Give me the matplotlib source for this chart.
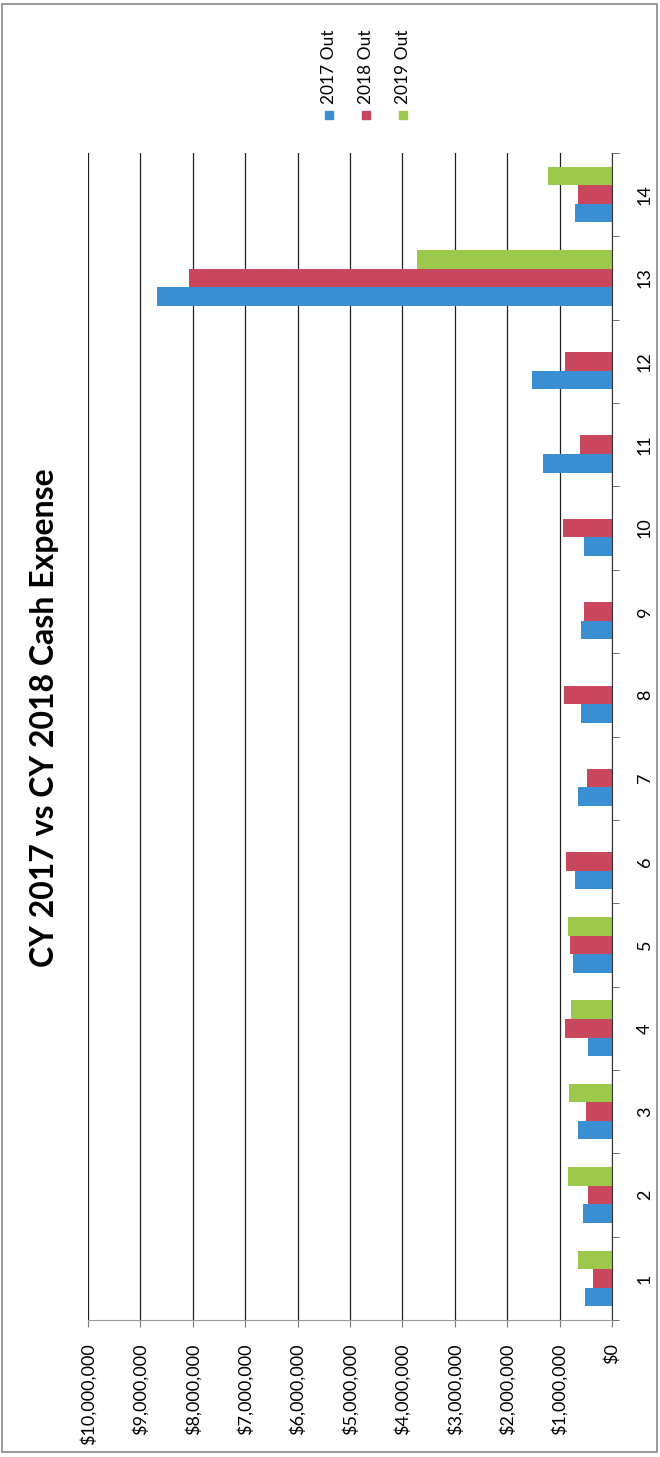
# CY 2017 vs CY 2018 Cash Expense - column chart, printed page turned sideways
import numpy as np
import matplotlib.pyplot as plt
from matplotlib.patches import Rectangle
from matplotlib.ticker import FuncFormatter

# Data
categories = list(range(1, 15))
out_2017 = [520000, 560000, 650000, 460000, 750000, 710000, 640000, 600000, 600000, 530000, 1320000, 1530000, 8680000, 710000]
out_2018 = [360000, 460000, 500000, 900000, 800000, 880000, 480000, 920000, 540000, 940000, 610000, 900000, 8080000, 650000]
out_2019 = [650000, 840000, 820000, 790000, 840000, 0, 0, 0, 0, 0, 0, 0, 3720000, 1230000]
series_names = ['2017 Out', '2018 Out', '2019 Out']
series_colors = ['#3a8fd2', '#c9475c', '#9cc84c']
value_ticks = list(range(0, 10000001, 1000000))
title_text = 'CY 2017 vs CY 2018 Cash Expense'

plt.rcParams['font.family'] = ['Lato', 'DejaVu Sans']

W, H = 660, 1457
fig = plt.figure(figsize=(W / 100, H / 100), dpi=100)

# page border
fig.patches.append(Rectangle((2 / W, 5 / H), 655 / W, 1448 / H, transform=fig.transFigure,
                             fill=False, edgecolor='#8a8a8a', linewidth=1.2))

# plot area in pixels: x 88..612, y 153..1320 (from top)
ax = fig.add_axes([88 / W, (H - 1320) / H, (612 - 88) / W, (1320 - 153) / H])

y = np.array(categories)
bh = 0.222
for i, vals in enumerate([out_2017, out_2018, out_2019]):
    ax.barh(y + (i - 1) * bh, vals, height=bh, color=series_colors[i], label=series_names[i])

ax.set_xlim(10000000, 0)
ax.set_ylim(0.5, 14.5)

# value axis along the bottom
ax.set_xticks(value_ticks)
ax.xaxis.set_major_formatter(FuncFormatter(lambda v, p: '${:,.0f}'.format(v)))
ax.tick_params(axis='x', labelrotation=90, labelsize=13, length=5, color='#777777', pad=12)
for lbl in ax.get_xticklabels():
    lbl.set_va('top')
ax.grid(axis='x', color='#222222', linewidth=0.9)
ax.set_axisbelow(True)

# category axis on the right
ax.yaxis.tick_right()
ax.set_yticks(categories)
ax.set_yticklabels([str(c) for c in categories], rotation=90, va='center')
ax.set_yticks(np.arange(0.5, 15, 1), minor=True)
ax.tick_params(axis='y', which='major', length=0, labelsize=13, pad=18)
ax.tick_params(axis='y', which='minor', length=5, color='#555555')

for s in ['top', 'left']:
    ax.spines[s].set_visible(False)
ax.spines['right'].set_color('#333333')
ax.spines['bottom'].set_color('#999999')

# title, turned with the page
fig.text(45 / W, 1 - 718 / H, title_text, rotation=90, ha='center', va='center',
         fontsize=23, fontweight='bold')

# legend, one column per series
for i, name in enumerate(series_names):
    lx = (329 + 37 * i) / W
    fig.patches.append(Rectangle((lx - 4 / W, 1 - 119 / H), 8 / W, 8 / H, transform=fig.transFigure,
                                 color=series_colors[i]))
    fig.text(lx, 1 - 104 / H, name, rotation=90, ha='center', va='bottom', fontsize=12.5)

fig.savefig('out.png', dpi=100)
